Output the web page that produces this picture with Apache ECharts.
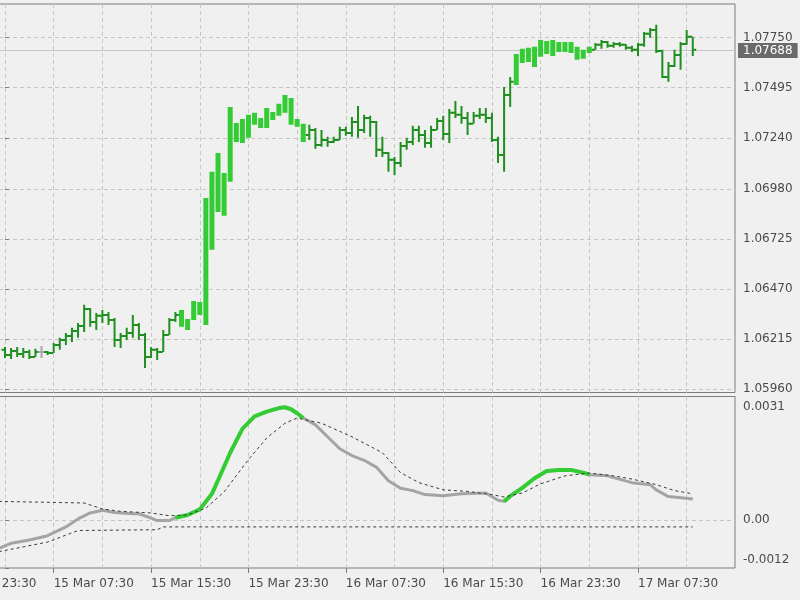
<!DOCTYPE html>
<html><head><meta charset="utf-8">
<script src="https://cdn.jsdelivr.net/npm/echarts@6/dist/echarts.min.js"></script>
<style>html,body{margin:0;padding:0;background:#f0f0f0}#c{width:800px;height:600px}</style>
</head><body><div id="c"></div>
<script>
// ---- DATA (M30 bars, index 0 = 15 Mar 03:30) ----
const barOpen = [1.06161,1.06135,1.06155,1.0614,1.0615,1.06125,1.0615,1.0615,1.06145,1.06186,
1.06211,1.06232,1.06257,1.06283,1.06369,1.06303,1.06334,1.06339,1.06313,1.06211,
1.06232,1.06247,1.06288,1.06237,1.06125,1.06161,1.0615,1.06237,1.06313,1.06278,
1.06262,1.06313,1.06339,1.06288,1.0667,1.06863,1.06843,1.07016,1.07219,1.07214,
1.0724,1.07306,1.0729,1.0729,1.07331,1.07352,1.07367,1.07306,1.07296,1.07219,
1.07255,1.0728,1.07204,1.07229,1.07219,1.07229,1.0728,1.07265,1.07321,1.0728,
1.07341,1.07321,1.07179,1.07163,1.07128,1.07112,1.07199,1.07219,1.0728,1.07255,
1.07214,1.0728,1.07326,1.0726,1.07367,1.07357,1.07341,1.07311,1.07352,1.07357,
1.07341,1.07229,1.07153,1.07458,1.07509,1.07621,1.07626,1.07601,1.07652,1.07667,
1.07657,1.07677,1.07677,1.07672,1.07637,1.07642,1.07672,1.07688,1.07713,1.07728,
1.07708,1.07718,1.07713,1.07698,1.07688,1.07713,1.07769,1.07789,1.07682,1.0755,
1.07606,1.07662,1.07718,1.07754];
const barHigh = [1.06176,1.06171,1.06176,1.06171,1.06161,1.06166,1.06181,1.06155,1.06196,1.06222,
1.06247,1.06273,1.06298,1.0639,1.06374,1.06349,1.06364,1.06354,1.06323,1.06247,
1.06273,1.06339,1.06298,1.06247,1.06176,1.06171,1.06262,1.06323,1.06354,1.06364,
1.06318,1.0641,1.06405,1.06934,1.07067,1.07163,1.07061,1.07397,1.07316,1.07336,
1.07357,1.07367,1.07341,1.07392,1.07372,1.07413,1.07458,1.07443,1.07336,1.07311,
1.07306,1.0729,1.0728,1.07245,1.07245,1.07296,1.07296,1.07346,1.07402,1.07357,
1.07352,1.07326,1.07245,1.07168,1.07143,1.07219,1.0724,1.07301,1.07301,1.0728,
1.07301,1.07341,1.07352,1.07387,1.07428,1.07402,1.07372,1.07372,1.07392,1.07392,
1.07367,1.07245,1.07499,1.0755,1.07667,1.07693,1.07698,1.07703,1.07738,1.07733,
1.07738,1.07728,1.07728,1.07728,1.07703,1.07688,1.07703,1.07723,1.07738,1.07733,
1.07728,1.07728,1.07718,1.07708,1.07723,1.07779,1.07799,1.07815,1.07688,1.07626,
1.07688,1.07728,1.07789,1.07754];
const barLow = [1.0612,1.06115,1.06125,1.0612,1.06115,1.06125,1.0612,1.06135,1.06145,1.06161,
1.06186,1.06201,1.06222,1.06252,1.06278,1.06262,1.06298,1.06288,1.06176,1.06171,
1.06211,1.06222,1.06211,1.06069,1.0612,1.0611,1.0615,1.06237,1.06303,1.06278,
1.06262,1.06313,1.06339,1.06288,1.0667,1.06863,1.06843,1.07016,1.07219,1.07214,
1.0724,1.07306,1.0729,1.0729,1.07331,1.07352,1.07367,1.07306,1.07296,1.07219,
1.07229,1.07184,1.07194,1.07194,1.07214,1.07229,1.0725,1.07245,1.0724,1.07265,
1.07245,1.07143,1.07143,1.07067,1.07051,1.07092,1.07179,1.07204,1.07219,1.07189,
1.07189,1.0728,1.07229,1.07214,1.07341,1.07311,1.07255,1.07311,1.07336,1.07316,
1.07219,1.07112,1.07067,1.07397,1.07509,1.07621,1.07626,1.07601,1.07652,1.07667,
1.07657,1.07677,1.07677,1.07672,1.07637,1.07642,1.07672,1.07688,1.07693,1.07698,
1.07698,1.07703,1.07688,1.07677,1.07657,1.07703,1.07749,1.07672,1.07545,1.07525,
1.07601,1.07586,1.07713,1.07657];
const barClose = [1.06135,1.06155,1.0614,1.0615,1.06125,1.0615,1.0615,1.06145,1.06186,1.06211,
1.06232,1.06257,1.06283,1.06369,1.06303,1.06334,1.06339,1.06313,1.06211,1.06232,
1.06247,1.06288,1.06237,1.06125,1.06161,1.0615,1.06237,1.06313,1.06339,1.06364,
1.06318,1.0641,1.06405,1.06934,1.07067,1.07163,1.07061,1.07397,1.07316,1.07336,
1.07357,1.07367,1.07341,1.07392,1.07372,1.07413,1.07458,1.07443,1.07336,1.07311,
1.0728,1.07204,1.07229,1.07219,1.07229,1.0728,1.07265,1.07321,1.0728,1.07341,
1.07321,1.07179,1.07163,1.07128,1.07112,1.07199,1.07219,1.0728,1.07255,1.07214,
1.0728,1.07326,1.0726,1.07367,1.07357,1.07341,1.07311,1.07352,1.07357,1.07341,
1.07229,1.07153,1.07458,1.07525,1.07667,1.07693,1.07698,1.07703,1.07738,1.07733,
1.07738,1.07728,1.07728,1.07728,1.07703,1.07688,1.07703,1.07713,1.07728,1.07708,
1.07718,1.07713,1.07698,1.07688,1.07713,1.07769,1.07789,1.07682,1.0755,1.07606,
1.07662,1.07718,1.07754,1.07688];
// bars painted as bodies where the trend signal is up
const upRuns = [[29,49],[84,96]];

// MACD-style indicator (bar index, value)
const macdIdx = [-1,1,4,7,10,12,14,16,18,21,22,24,25,27,28,30,32,34,35,37,39,41,43,45,46,47,48,49,51,53,55,57,59,61,63,65,67,69,72,75,79,81,82,83,85,87,89,91,93,95,96,99,103,106,107,109,113];
const macdVal = [-0.00071,-0.00058,-0.00050,-0.00039,-0.00017,0.00003,0.00018,0.00025,0.00019,0.00016,0.00016,0.00005,-0.00001,-0.00001,0.00006,0.00013,0.00027,0.00066,0.00100,0.00169,0.00229,0.00260,0.00272,0.00281,0.00283,0.00278,0.00268,0.00256,0.00239,0.00209,0.00179,0.00162,0.00150,0.00133,0.00099,0.00080,0.00074,0.00064,0.00061,0.00066,0.00068,0.00050,0.00047,0.00060,0.00081,0.00105,0.00123,0.00126,0.00126,0.00119,0.00114,0.00111,0.00094,0.00089,0.00076,0.00059,0.00053];
const macdUpRuns = [[28,49],[82,96]];
const signalIdx = [-1,13,16,19,24,27,30,33,36,40,43,46,48,52,57,62,65,68,72,76,80,82,85,88,92,96,100,103,107,110,113];
const signalVal = [0.00047,0.00043,0.00028,0.00022,0.00018,0.00011,0.00013,0.00030,0.00071,0.00152,0.00206,0.00243,0.00256,0.00243,0.00209,0.00169,0.00119,0.00094,0.00076,0.00072,0.00064,0.00058,0.00068,0.00091,0.00111,0.00118,0.00111,0.00103,0.00089,0.00074,0.00066];
const levelIdx = [-1,7,12,25,26,113];
const levelVal = [-0.00079,-0.00055,-0.00026,-0.00024,-0.00017,-0.00017];

// axes ticks / labels
const priceTickVals = [1.0596,1.06215,1.0647,1.06725,1.0698,1.0724,1.07495,1.0775];
const priceTickLabels = ['1.05960','1.06215','1.06470','1.06725','1.06980','1.07240','1.07495','1.07750'];
const macdTickVals = [-0.0012,0,0.0031];
const macdTickLabels = ['-0.0012','0.00','0.0031'];
const timeLabelIdx = [-8,8,24,40,56,72,88,104];
const timeLabels = ['14 Mar 23:30','15 Mar 07:30','15 Mar 15:30','15 Mar 23:30','16 Mar 07:30','16 Mar 15:30','16 Mar 23:30','17 Mar 07:30'];
const gridIdx = [-8,0,8,16,24,32,40,48,56,64,72,80,88,96,104,112];

// ---- BUILD ----
const THICK = '#34cc34', THIN = '#1f8f1f', DOJI = '#a8a8a8';
const inRuns = (i, runs) => runs.some(r => i >= r[0] && i <= r[1]);
const barData = barOpen.map((o, i) => {
  const kind = inRuns(i, upRuns) ? 1 : (o === barClose[i] ? 2 : 0);
  return [i, o, barHigh[i], barLow[i], barClose[i], kind];
});
const pairs = (xs, ys) => xs.map((x, k) => [x, ys[k]]);
const macdData = pairs(macdIdx, macdVal);
const greenData = [];
macdUpRuns.forEach((r, n) => {
  if (n > 0) greenData.push([null, null]);
  macdData.forEach(p => { if (p[0] >= r[0] && p[0] <= r[1]) greenData.push(p); });
});
const lastIdx = barClose.length - 1;
const lastClose = barClose[lastIdx];
const pick = (vals, labels) => v => { const k = vals.findIndex(t => Math.abs(t - v) < 1e-7); return k >= 0 ? labels[k] : ''; };
const macdFmt = v => {
  const s = pick(macdTickVals, macdTickLabels)(v);
  if (Math.abs(v - macdTickVals[macdTickVals.length - 1]) < 1e-9) return '{mx|' + s + '}';
  if (Math.abs(v - macdTickVals[0]) < 1e-9) return '{mn|' + s + '}';
  return s;
};

function renderBar(params, api) {
  const i = api.value(0), o = api.value(1), h = api.value(2), l = api.value(3), c = api.value(4), kind = api.value(5);
  const pO = api.coord([i, o]), pH = api.coord([i, h]), pL = api.coord([i, l]), pC = api.coord([i, c]);
  const x = pO[0];
  if (kind === 1) {
    const top = Math.min(pO[1], pC[1]), bot = Math.max(pO[1], pC[1]);
    return {type: 'rect', shape: {x: x - 2.5, y: top, width: 5, height: Math.max(bot - top, 1)}, style: {fill: THICK}};
  }
  const col = kind === 2 ? DOJI : THIN;
  return {type: 'group', children: [
    {type: 'rect', shape: {x: x - 1, y: pH[1], width: 2, height: Math.max(pL[1] - pH[1], 1)}, style: {fill: col}},
    {type: 'rect', shape: {x: x - 3.5, y: pO[1] - 1, width: 3, height: 2}, style: {fill: col}},
    {type: 'rect', shape: {x: x + 0.5, y: pC[1] - 1, width: 3, height: 2}, style: {fill: col}}
  ]};
}
// bid line across the price pane + price tag at the right
function renderBid(params, api) {
  const p = api.coord([api.value(0), api.value(1)]);
  const cs = params.coordSys;
  const y = Math.round(p[1]) + 0.5;
  const x0 = Math.max(cs.x, 0), x1 = cs.x + cs.width;
  return {type: 'group', children: [
    {type: 'line', shape: {x1: x0, y1: y, x2: x1, y2: y}, style: {stroke: '#c4c4c4', lineWidth: 1}},
    {type: 'text', x: x1 + 3, y: y, style: {text: api.value(1).toFixed(5), fill: '#ffffff', backgroundColor: '#6a6a6a',
      padding: [2, 5, 1, 5], font: '12px "DejaVu Sans"', verticalAlign: 'middle', align: 'left'}}
  ]};
}

const X_MIN = -9.0364, X_MAX = 119.938;
const GRIDLINE = {show: true, lineStyle: {color: '#c6c6c6', type: [4, 3], width: 1}};
const TXT = '#4a4a4a';
const gridBase = {left: -50, right: 65, show: true, borderColor: '#7d7d7d', borderWidth: 1, backgroundColor: 'transparent', containLabel: false, outerBoundsMode: 'none'};
const xHidden = (g, pos) => ({gridIndex: g, type: 'value', min: X_MIN, max: X_MAX, position: pos,
  axisLine: {show: false}, axisTick: {show: false, customValues: gridIdx}, axisLabel: {show: false}, splitLine: GRIDLINE});

const option = {
  backgroundColor: '#f0f0f0',
  animation: false,
  textStyle: {fontFamily: 'DejaVu Sans'},
  grid: [
    Object.assign({}, gridBase, {top: 4, height: 388.5}),
    Object.assign({}, gridBase, {top: 396.5, height: 171.5})
  ],
  xAxis: [
    xHidden(0, 'bottom'),
    xHidden(1, 'top'),
    {gridIndex: 1, type: 'value', min: X_MIN, max: X_MAX, position: 'bottom',
     axisLine: {show: false},
     axisTick: {show: true, customValues: timeLabelIdx, length: 5, lineStyle: {color: '#7d7d7d'}},
     axisLabel: {show: true, customValues: timeLabelIdx, formatter: pick(timeLabelIdx, timeLabels), align: 'left', margin: 10, color: TXT, fontSize: 12, fontFamily: 'DejaVu Sans'},
     splitLine: {show: false}}
  ],
  yAxis: [
    {gridIndex: 0, type: 'value', position: 'right', min: 1.05944, max: 1.07921,
     axisLine: {show: false},
     axisTick: {show: true, customValues: priceTickVals, length: 4, lineStyle: {color: '#7d7d7d'}},
     axisLabel: {show: true, customValues: priceTickVals, formatter: pick(priceTickVals, priceTickLabels), margin: 8, color: TXT, fontSize: 12, fontFamily: 'DejaVu Sans'},
     splitLine: GRIDLINE},
    {gridIndex: 1, type: 'value', position: 'right', min: -0.0012, max: 0.0031,
     axisLine: {show: false},
     axisTick: {show: true, customValues: macdTickVals, length: 4, lineStyle: {color: '#7d7d7d'}},
     axisLabel: {show: true, customValues: macdTickVals, formatter: macdFmt, margin: 8, color: TXT, fontSize: 12, fontFamily: 'DejaVu Sans',
       verticalAlignMinLabel: 'bottom', verticalAlignMaxLabel: 'top',
       rich: {mx: {padding: [4, 0, 0, 0], fontSize: 12, color: TXT, fontFamily: 'DejaVu Sans'}, mn: {padding: [0, 0, 2, 0], fontSize: 12, color: TXT, fontFamily: 'DejaVu Sans'}}},
     splitLine: Object.assign({}, GRIDLINE, {showMinLine: false, showMaxLine: false})}
  ],
  series: [
    {type: 'custom', xAxisIndex: 0, yAxisIndex: 0, data: [[lastIdx, lastClose]], renderItem: renderBid, clip: false, z: 1, silent: true,
     encode: {x: 0, y: 1}},
    {type: 'custom', xAxisIndex: 0, yAxisIndex: 0, data: barData, renderItem: renderBar, clip: true, z: 2,
     encode: {x: 0, y: [1, 2, 3, 4]}},
    {type: 'line', xAxisIndex: 2, yAxisIndex: 1, data: macdData, symbol: 'none', showSymbol: false, lineStyle: {color: '#a4a4a4', width: 3}, z: 2},
    {type: 'line', xAxisIndex: 2, yAxisIndex: 1, data: greenData, symbol: 'none', showSymbol: false, connectNulls: false, lineStyle: {color: '#34cc34', width: 4}, z: 3},
    {type: 'line', xAxisIndex: 2, yAxisIndex: 1, data: pairs(signalIdx, signalVal), symbol: 'none', showSymbol: false, lineStyle: {color: '#3a3a3a', width: 1, type: [3, 3]}, z: 4},
    {type: 'line', xAxisIndex: 2, yAxisIndex: 1, data: pairs(levelIdx, levelVal), symbol: 'none', showSymbol: false, lineStyle: {color: '#3a3a3a', width: 1, type: [3, 3]}, z: 4}
  ]
};
const chart = echarts.init(document.getElementById('c'), null, {renderer: 'canvas'});
chart.setOption(option);
</script>
</body></html>
